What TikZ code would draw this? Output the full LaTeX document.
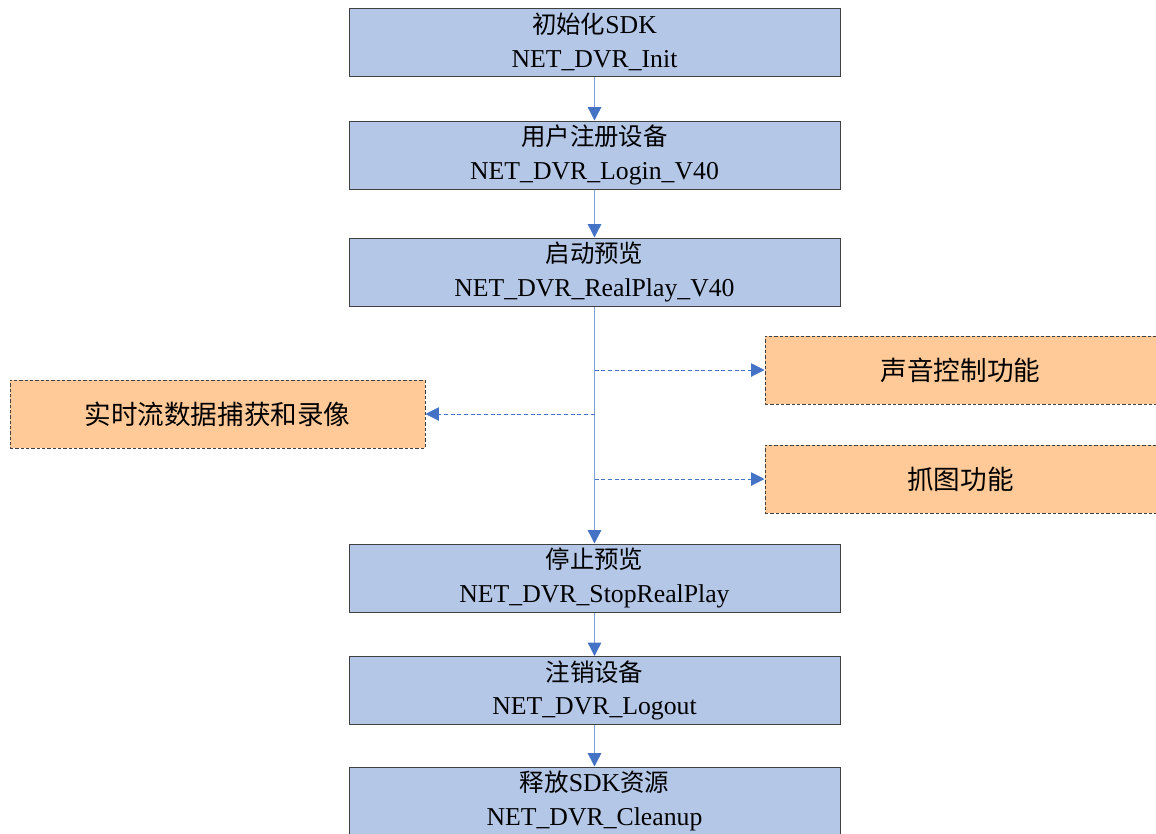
\documentclass[tikz,border=0pt]{standalone}
\usepackage{fontspec}
\setmainfont{Liberation Serif}
\newfontfamily\cjk[Scale=0.95]{Noto Sans CJK SC}
\usetikzlibrary{arrows.meta}
\definecolor{bluefill}{HTML}{B4C7E7}
\definecolor{orangefill}{HTML}{FFCA98}
\definecolor{edgegray}{HTML}{404040}
\definecolor{arrowblue}{HTML}{4472C4}
\definecolor{lineblue}{HTML}{7F9FD6}
\tikzset{
  mainbox/.style={rectangle, draw=edgegray, line width=0.75pt, fill=bluefill,
    minimum width=368.25pt, minimum height=51pt, inner sep=0pt, align=center,
    font=\fontsize{19.3}{25}\selectfont},
  sidebox/.style={rectangle, draw=edgegray, line width=0.75pt,
    dash pattern=on 2.5pt off 1.5pt, fill=orangefill,
    minimum height=51pt, inner sep=0pt, align=center,
    font=\fontsize{21}{26}\selectfont},
  flowline/.style={draw=lineblue, line width=1pt,
    -{Triangle[width=10pt,length=10pt,color=arrowblue]}},
  dasharrow/.style={draw=arrowblue, line width=0.75pt, dash pattern=on 3pt off 2pt,
    -{Triangle[width=10pt,length=10pt,color=arrowblue]}}
}
\begin{document}
\begin{tikzpicture}[x=0.75pt,y=-0.75pt]
\useasboundingbox (0,0) rectangle (1156,833);
\clip (0,0) rectangle (1156,833);
\node[mainbox] (b1) at (594.5,42) {{\cjk 初始化}SDK\\NET\_DVR\_Init};
\node[mainbox] (b2) at (594.5,155) {{\cjk 用户注册设备}\\NET\_DVR\_Login\_V40};
\node[mainbox] (b3) at (594.5,272) {{\cjk 启动预览}\\NET\_DVR\_RealPlay\_V40};
\node[mainbox] (b4) at (594.5,578) {{\cjk 停止预览}\\NET\_DVR\_StopRealPlay};
\node[mainbox] (b5) at (594.5,690.5) {{\cjk 注销设备}\\NET\_DVR\_Logout};
\node[mainbox] (b6) at (594.5,801) {{\cjk 释放}SDK{\cjk 资源}\\NET\_DVR\_Cleanup};
\node[sidebox, minimum width=293.25pt] (r1) at (960.5,370) {\cjk 声音控制功能};
\node[sidebox, minimum width=311.25pt] (l1) at (217.5,414) {\cjk 实时流数据捕获和录像};
\node[sidebox, minimum width=293.25pt] (r2) at (960.5,479) {\cjk 抓图功能};
\draw[flowline] (b1.south) -- (b2.north);
\draw[flowline] (b2.south) -- (b3.north);
\draw[flowline] (b3.south) -- (b4.north);
\draw[flowline] (b4.south) -- (b5.north);
\draw[flowline] (b5.south) -- (b6.north);
\draw[dasharrow] (b3.south |- r1.west) -- (r1.west);
\draw[dasharrow] (b3.south |- l1.east) -- (l1.east);
\draw[dasharrow] (b3.south |- r2.west) -- (r2.west);
\end{tikzpicture}
\end{document}
